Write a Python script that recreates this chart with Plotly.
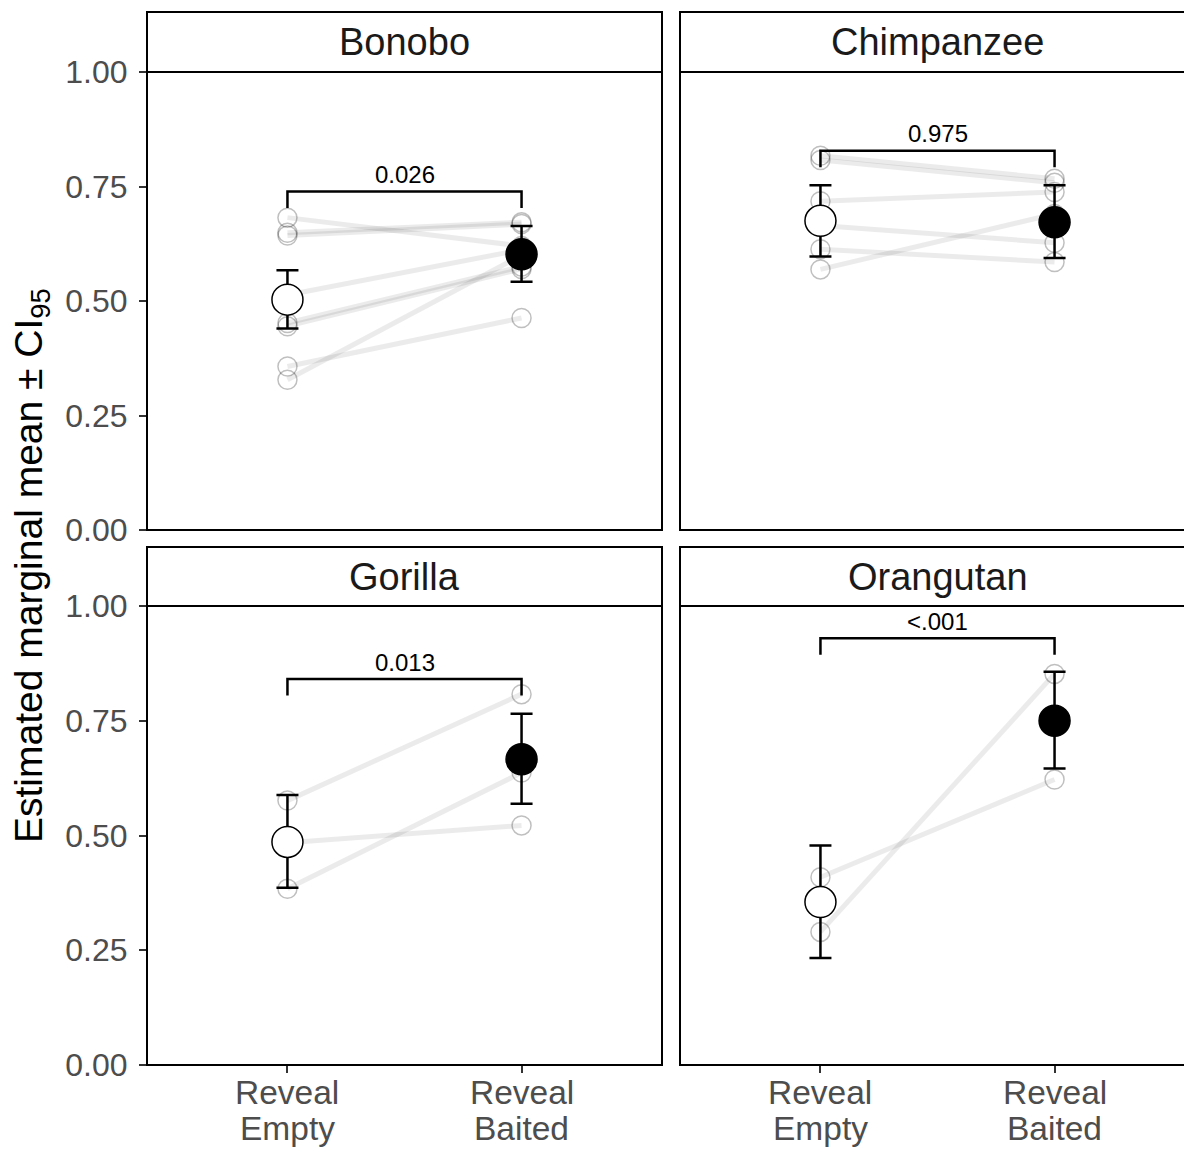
import plotly.graph_objects as go

# ---------------- data ----------------
species = ["Bonobo", "Chimpanzee", "Gorilla", "Orangutan"]
conditions = ["Reveal Empty", "Reveal Baited"]
x_tick_lines = [["Reveal", "Empty"], ["Reveal", "Baited"]]
y_tick_vals = [0.00, 0.25, 0.50, 0.75, 1.00]
y_tick_text = ["0.00", "0.25", "0.50", "0.75", "1.00"]

emm_empty = [0.503, 0.675, 0.486, 0.355]
emm_empty_lo = [0.440, 0.597, 0.386, 0.233]
emm_empty_hi = [0.567, 0.753, 0.588, 0.478]
emm_baited = [0.602, 0.672, 0.666, 0.750]
emm_baited_lo = [0.542, 0.594, 0.569, 0.646]
emm_baited_hi = [0.664, 0.753, 0.765, 0.857]

p_labels = ["0.026", "0.975", "0.013", "<.001"]
bracket_y = [0.739, 0.828, 0.841, 0.930]

bonobo_empty = [0.682, 0.649, 0.643, 0.513, 0.452, 0.445, 0.357, 0.328]
bonobo_baited = [0.620, 0.672, 0.668, 0.612, 0.575, 0.570, 0.463, 0.600]
chimp_empty = [0.817, 0.808, 0.718, 0.665, 0.613, 0.569]
chimp_baited = [0.767, 0.758, 0.738, 0.627, 0.585, 0.690]
gorilla_empty = [0.576, 0.484, 0.384]
gorilla_baited = [0.808, 0.522, 0.637]
orang_empty = [0.409, 0.290]
orang_baited = [0.622, 0.852]

subj_empty = [bonobo_empty, chimp_empty, gorilla_empty, orang_empty]
subj_baited = [bonobo_baited, chimp_baited, gorilla_baited, orang_baited]

# ---------------- layout geometry (page pixels) ----------------
PAGE_W, PAGE_H = 1192, 1149
OX, OY = 8, 8                      # default body margin of the html page
W, H = PAGE_W - OX, PAGE_H - OY    # figure size
px_per_unit = 515 / 2.2
col_px = [(147, 662), (680, 1195)]
row_px = [(72, 530), (606, 1065)]
strip_px = [(12, 72), (547, 606)]
xlabel_line_px = [1092, 1128]
FONT = "Liberation Sans, Arial, sans-serif"
BRACKET_TIP = 0.036
LABEL_OFF = 0.037


def fx(p):
    return (p - OX) / W


def fy(p):
    return 1 - (p - OY) / H


fig = go.Figure()

shapes = []
annotations = []
layout_axes = {}

for i, sp in enumerate(species):
    r, c = divmod(i, 2)
    n = i + 1
    xa = "x" if n == 1 else f"x{n}"
    ya = "y" if n == 1 else f"y{n}"
    xk = "xaxis" if n == 1 else f"xaxis{n}"
    yk = "yaxis" if n == 1 else f"yaxis{n}"

    x0p, x1p = col_px[c]
    y0p, y1p = row_px[r]
    x1_dom = min(x1p, PAGE_W)
    xr_end = 0.4 + (x1_dom - x0p) / px_per_unit

    layout_axes[xk] = dict(
        domain=[fx(x0p), fx(x1_dom)], range=[0.4, xr_end], anchor=ya,
        tickvals=[1, 2], ticktext=conditions,
        showticklabels=False, ticks="outside" if r == 1 else "",
        ticklen=7, tickwidth=2, tickcolor="#333333",
        showgrid=False, zeroline=False, showline=False, fixedrange=True,
        automargin=False,
    )
    layout_axes[yk] = dict(
        domain=[fy(y1p), fy(y0p)], range=[0, 1], anchor=xa,
        tickvals=y_tick_vals, ticktext=y_tick_text,
        showticklabels=(c == 0), ticks="outside" if c == 0 else "",
        ticklen=7, tickwidth=2, tickcolor="#333333", ticklabelstandoff=5,
        tickfont=dict(family=FONT, size=32, color="#4D4D4D"),
        showgrid=False, zeroline=False, showline=False, fixedrange=True,
        automargin=False,
    )

    # x tick labels (two tight lines) for bottom row
    if r == 1:
        for k, lines in enumerate(x_tick_lines):
            for line_txt, ypx in zip(lines, xlabel_line_px):
                annotations.append(dict(
                    x=k + 1, xref=xa, y=fy(ypx), yref="paper", text=line_txt,
                    showarrow=False, xanchor="center", yanchor="middle",
                    font=dict(family=FONT, size=33.5, color="#4D4D4D"),
                ))

    # subject lines and points
    for e, b in zip(subj_empty[i], subj_baited[i]):
        fig.add_trace(go.Scatter(
            x=[1, 2], y=[e, b], xaxis=xa, yaxis=ya, mode="lines+markers",
            line=dict(color="rgba(0,0,0,0.08)", width=5),
            marker=dict(symbol="circle-open", size=19,
                        color="rgba(0,0,0,0.25)", line=dict(width=1.5)),
            showlegend=False, hoverinfo="skip",
        ))

    # bracket
    by = bracket_y[i]
    fig.add_trace(go.Scatter(
        x=[1, 1, 2, 2], y=[by - BRACKET_TIP, by, by, by - BRACKET_TIP],
        xaxis=xa, yaxis=ya, mode="lines",
        line=dict(color="black", width=2.5), showlegend=False, hoverinfo="skip",
    ))
    annotations.append(dict(
        x=1.5, y=by + LABEL_OFF, xref=xa, yref=ya, text=p_labels[i],
        showarrow=False, font=dict(family=FONT, size=24, color="black"),
    ))

    # estimated marginal means with CI
    means = [emm_empty[i], emm_baited[i]]
    hi = [emm_empty_hi[i] - emm_empty[i], emm_baited_hi[i] - emm_baited[i]]
    lo = [emm_empty[i] - emm_empty_lo[i], emm_baited[i] - emm_baited_lo[i]]
    fig.add_trace(go.Scatter(
        x=[1, 2], y=means, xaxis=xa, yaxis=ya, mode="markers",
        error_y=dict(type="data", symmetric=False, array=hi, arrayminus=lo,
                     color="black", thickness=2.5, width=11),
        marker=dict(symbol="circle", size=31, color=["white", "black"],
                    line=dict(color="black", width=1.5)),
        showlegend=False, hoverinfo="skip",
    ))

    # panel border
    shapes.append(dict(type="rect", xref="paper", yref="paper",
                       x0=fx(x0p), x1=fx(x1p), y0=fy(y1p), y1=fy(y0p),
                       line=dict(color="black", width=2), fillcolor="rgba(0,0,0,0)",
                       layer="above"))
    # strip
    s0, s1 = strip_px[r]
    shapes.append(dict(type="rect", xref="paper", yref="paper",
                       x0=fx(x0p), x1=fx(x1p), y0=fy(s1), y1=fy(s0),
                       line=dict(color="black", width=2), fillcolor="white",
                       layer="above"))
    annotations.append(dict(
        x=fx((x0p + x1p) / 2), y=fy((s0 + s1) / 2), xref="paper", yref="paper",
        text=sp, showarrow=False,
        font=dict(family=FONT, size=38, color="#1A1A1A"),
        xanchor="center", yanchor="middle",
    ))

annotations.append(dict(
    x=fx(31), y=fy(566), xref="paper", yref="paper",
    text="Estimated marginal mean ± CI<sub>95</sub>", textangle=-90,
    showarrow=False, font=dict(family=FONT, size=39, color="black"),
    xanchor="center", yanchor="middle",
))

fig.update_layout(
    width=W, height=H, autosize=False,
    margin=dict(l=0, r=0, t=0, b=0),
    paper_bgcolor="white", plot_bgcolor="white",
    shapes=shapes, annotations=annotations, showlegend=False,
    **layout_axes,
)

fig.write_html("out.html")
